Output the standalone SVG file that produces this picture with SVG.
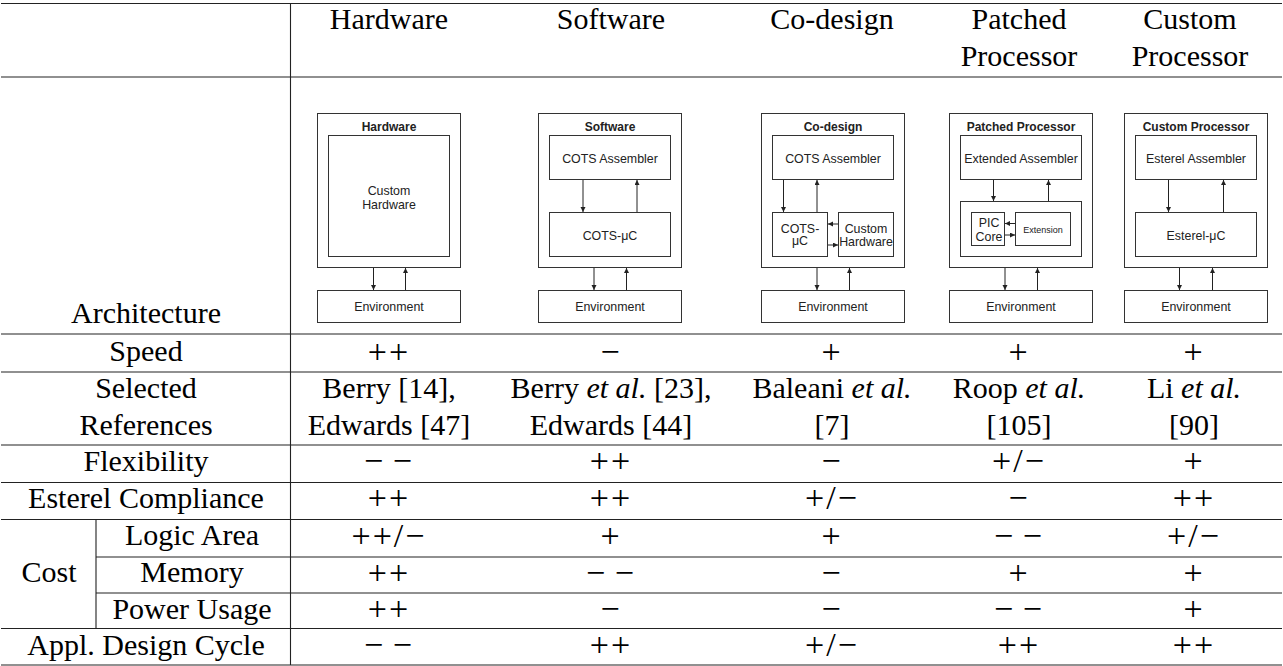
<svg xmlns="http://www.w3.org/2000/svg" width="1283" height="666" viewBox="0 0 1283 666">
<defs>
<marker id="ah" markerWidth="6" markerHeight="6" refX="5" refY="2.5" orient="auto" markerUnits="userSpaceOnUse"><path d="M0,0 L5,2.5 L0,5 z" fill="#222"/></marker>
<style>
.t{font-family:"Liberation Serif","Times New Roman",serif;font-size:30px;fill:#000;text-anchor:middle}
.v{font-family:"Liberation Serif","Times New Roman",serif;font-size:34px;fill:#000;text-anchor:middle;letter-spacing:2px;word-spacing:-3px}
.rule{stroke:#222;stroke-width:1.1;fill:none}
.bx{fill:#fff;stroke:#333;stroke-width:1}
.d{font-family:"Liberation Sans",Arial,sans-serif;font-size:12.4px;fill:#222;text-anchor:middle}
.dt{font-weight:bold;font-size:12px}
.ds{font-size:9px}
.ar{stroke:#222;stroke-width:1;fill:none;marker-end:url(#ah)}
</style>
</defs>
<rect width="1283" height="666" fill="#fff"/>
<g id="rules" class="rule">
<path d="M1,3.5H1282M1,77H1282M1,334H1282M1,372H1282M1,445H1282M1,482.5H1282M1,519.5H1282M96,557H1282M96,593H1282M1,628.5H1282M1,665H1282"/>
<path d="M290.5,3V665M96,519.5V628.5"/>
</g>
<g id="header" class="t">
<text x="389" y="29">Hardware</text>
<text x="611" y="29">Software</text>
<text x="832" y="29">Co-design</text>
<text x="1019" y="29">Patched</text>
<text x="1019" y="66">Processor</text>
<text x="1190" y="29">Custom</text>
<text x="1190" y="66">Processor</text>
</g>
<g id="labels" class="t">
<text x="146" y="323">Architecture</text>
<text x="146" y="361">Speed</text>
<text x="146" y="398">Selected</text>
<text x="146" y="434.5">References</text>
<text x="146" y="471">Flexibility</text>
<text x="146" y="508">Esterel Compliance</text>
<text x="49" y="582">Cost</text>
<text x="192" y="545">Logic Area</text>
<text x="192" y="582">Memory</text>
<text x="192" y="618.5">Power Usage</text>
<text x="146" y="654.5">Appl. Design Cycle</text>
</g>
<g id="references" class="t">
<text x="389" y="398">Berry [14],</text>
<text x="389" y="434.5">Edwards [47]</text>
<text x="611" y="398">Berry <tspan font-style="italic">et al.</tspan> [23],</text>
<text x="611" y="434.5">Edwards [44]</text>
<text x="832" y="398">Baleani <tspan font-style="italic">et al.</tspan></text>
<text x="832" y="434.5">[7]</text>
<text x="1019" y="398">Roop <tspan font-style="italic">et al.</tspan></text>
<text x="1019" y="434.5">[105]</text>
<text x="1194" y="398">Li <tspan font-style="italic">et al.</tspan></text>
<text x="1194" y="434.5">[90]</text>
</g>
<g id="values" class="v">
<text x="389" y="362.5">++</text><text x="611" y="362.5">−</text><text x="832" y="362.5">+</text><text x="1019" y="362.5">+</text><text x="1194" y="362.5">+</text>
<text x="389" y="472">− −</text><text x="611" y="472">++</text><text x="832" y="472">−</text><text x="1019" y="472">+/−</text><text x="1194" y="472">+</text>
<text x="389" y="509">++</text><text x="611" y="509">++</text><text x="832" y="509">+/−</text><text x="1019" y="509">−</text><text x="1194" y="509">++</text>
<text x="389" y="546.5">++/−</text><text x="611" y="546.5">+</text><text x="832" y="546.5">+</text><text x="1019" y="546.5">− −</text><text x="1194" y="546.5">+/−</text>
<text x="389" y="583.5">++</text><text x="611" y="583.5">− −</text><text x="832" y="583.5">−</text><text x="1019" y="583.5">+</text><text x="1194" y="583.5">+</text>
<text x="389" y="620">++</text><text x="611" y="620">−</text><text x="832" y="620">−</text><text x="1019" y="620">− −</text><text x="1194" y="620">+</text>
<text x="389" y="656">− −</text><text x="611" y="656">++</text><text x="832" y="656">+/−</text><text x="1019" y="656">++</text><text x="1194" y="656">++</text>
</g>
<g id="arch-hardware">
<rect class="bx" x="317.5" y="113.5" width="143" height="154"/>
<text class="d dt" x="389" y="130.5">Hardware</text>
<rect class="bx" x="328.5" y="135.5" width="121" height="121"/>
<text class="d" x="389" y="195">Custom</text>
<text class="d" x="389" y="208.5">Hardware</text>
<rect class="bx" x="317.5" y="290.5" width="143" height="32"/>
<text class="d" x="389" y="311">Environment</text>
</g>
<g id="arch-software">
<rect class="bx" x="538.5" y="113.5" width="143" height="154"/>
<text class="d dt" x="610" y="130.5">Software</text>
<rect class="bx" x="549.5" y="135.5" width="121" height="44"/>
<text class="d" x="610" y="163">COTS Assembler</text>
<rect class="bx" x="549.5" y="212.5" width="121" height="44"/>
<text class="d" x="610" y="240">COTS-μC</text>
<rect class="bx" x="538.5" y="290.5" width="143" height="32"/>
<text class="d" x="610" y="311">Environment</text>
</g>
<g id="arch-codesign">
<rect class="bx" x="761.5" y="113.5" width="143" height="154"/>
<text class="d dt" x="833" y="130.5">Co-design</text>
<rect class="bx" x="772.5" y="135.5" width="121" height="44"/>
<text class="d" x="833" y="163">COTS Assembler</text>
<rect class="bx" x="772.5" y="212.5" width="55" height="44"/>
<text class="d" x="800" y="232.5">COTS-</text>
<text class="d" x="800" y="245">μC</text>
<rect class="bx" x="838.5" y="212.5" width="55" height="44"/>
<text class="d" x="866" y="232.5">Custom</text>
<text class="d" x="866" y="245.5">Hardware</text>
<rect class="bx" x="761.5" y="290.5" width="143" height="32"/>
<text class="d" x="833" y="311">Environment</text>
</g>
<g id="arch-patched">
<rect class="bx" x="949.5" y="113.5" width="143" height="154"/>
<text class="d dt" x="1021" y="130.5">Patched Processor</text>
<rect class="bx" x="960.5" y="135.5" width="121" height="44"/>
<text class="d" x="1021" y="163">Extended Assembler</text>
<rect class="bx" x="960.5" y="201.5" width="121" height="55"/>
<rect class="bx" x="971.5" y="212.5" width="33" height="33"/>
<text class="d" x="989" y="227">PIC</text>
<text class="d" x="989" y="241">Core</text>
<rect class="bx" x="1015.5" y="212.5" width="55" height="33"/>
<text class="d ds" x="1043" y="233">Extension</text>
<rect class="bx" x="949.5" y="290.5" width="143" height="32"/>
<text class="d" x="1021" y="311">Environment</text>
</g>
<g id="arch-custom">
<rect class="bx" x="1124.5" y="113.5" width="143" height="154"/>
<text class="d dt" x="1196" y="130.5">Custom Processor</text>
<rect class="bx" x="1135.5" y="135.5" width="121" height="44"/>
<text class="d" x="1196" y="163">Esterel Assembler</text>
<rect class="bx" x="1135.5" y="212.5" width="121" height="44"/>
<text class="d" x="1196" y="240">Esterel-μC</text>
<rect class="bx" x="1124.5" y="290.5" width="143" height="32"/>
<text class="d" x="1196" y="311">Environment</text>
</g>
<g id="connectors" class="ar">
<path d="M373.5,268V290"/><path d="M405.5,290V268"/>
<path d="M583,180V212"/><path d="M637,212V180"/>
<path d="M594,268V290"/><path d="M626.5,290V268"/>
<path d="M783.5,180V212"/><path d="M817,212V180"/>
<path d="M838,224H828"/><path d="M828,245H838"/>
<path d="M817,268V290"/><path d="M849.5,290V268"/>
<path d="M993.5,180V201"/><path d="M1048.5,201V180"/>
<path d="M1015,223.5H1005"/><path d="M1005,235H1015"/>
<path d="M1005,268V290"/><path d="M1037.5,290V268"/>
<path d="M1168.5,180V212"/><path d="M1223.5,212V180"/>
<path d="M1179.5,268V290"/><path d="M1212.5,290V268"/>
</g>
</svg>
